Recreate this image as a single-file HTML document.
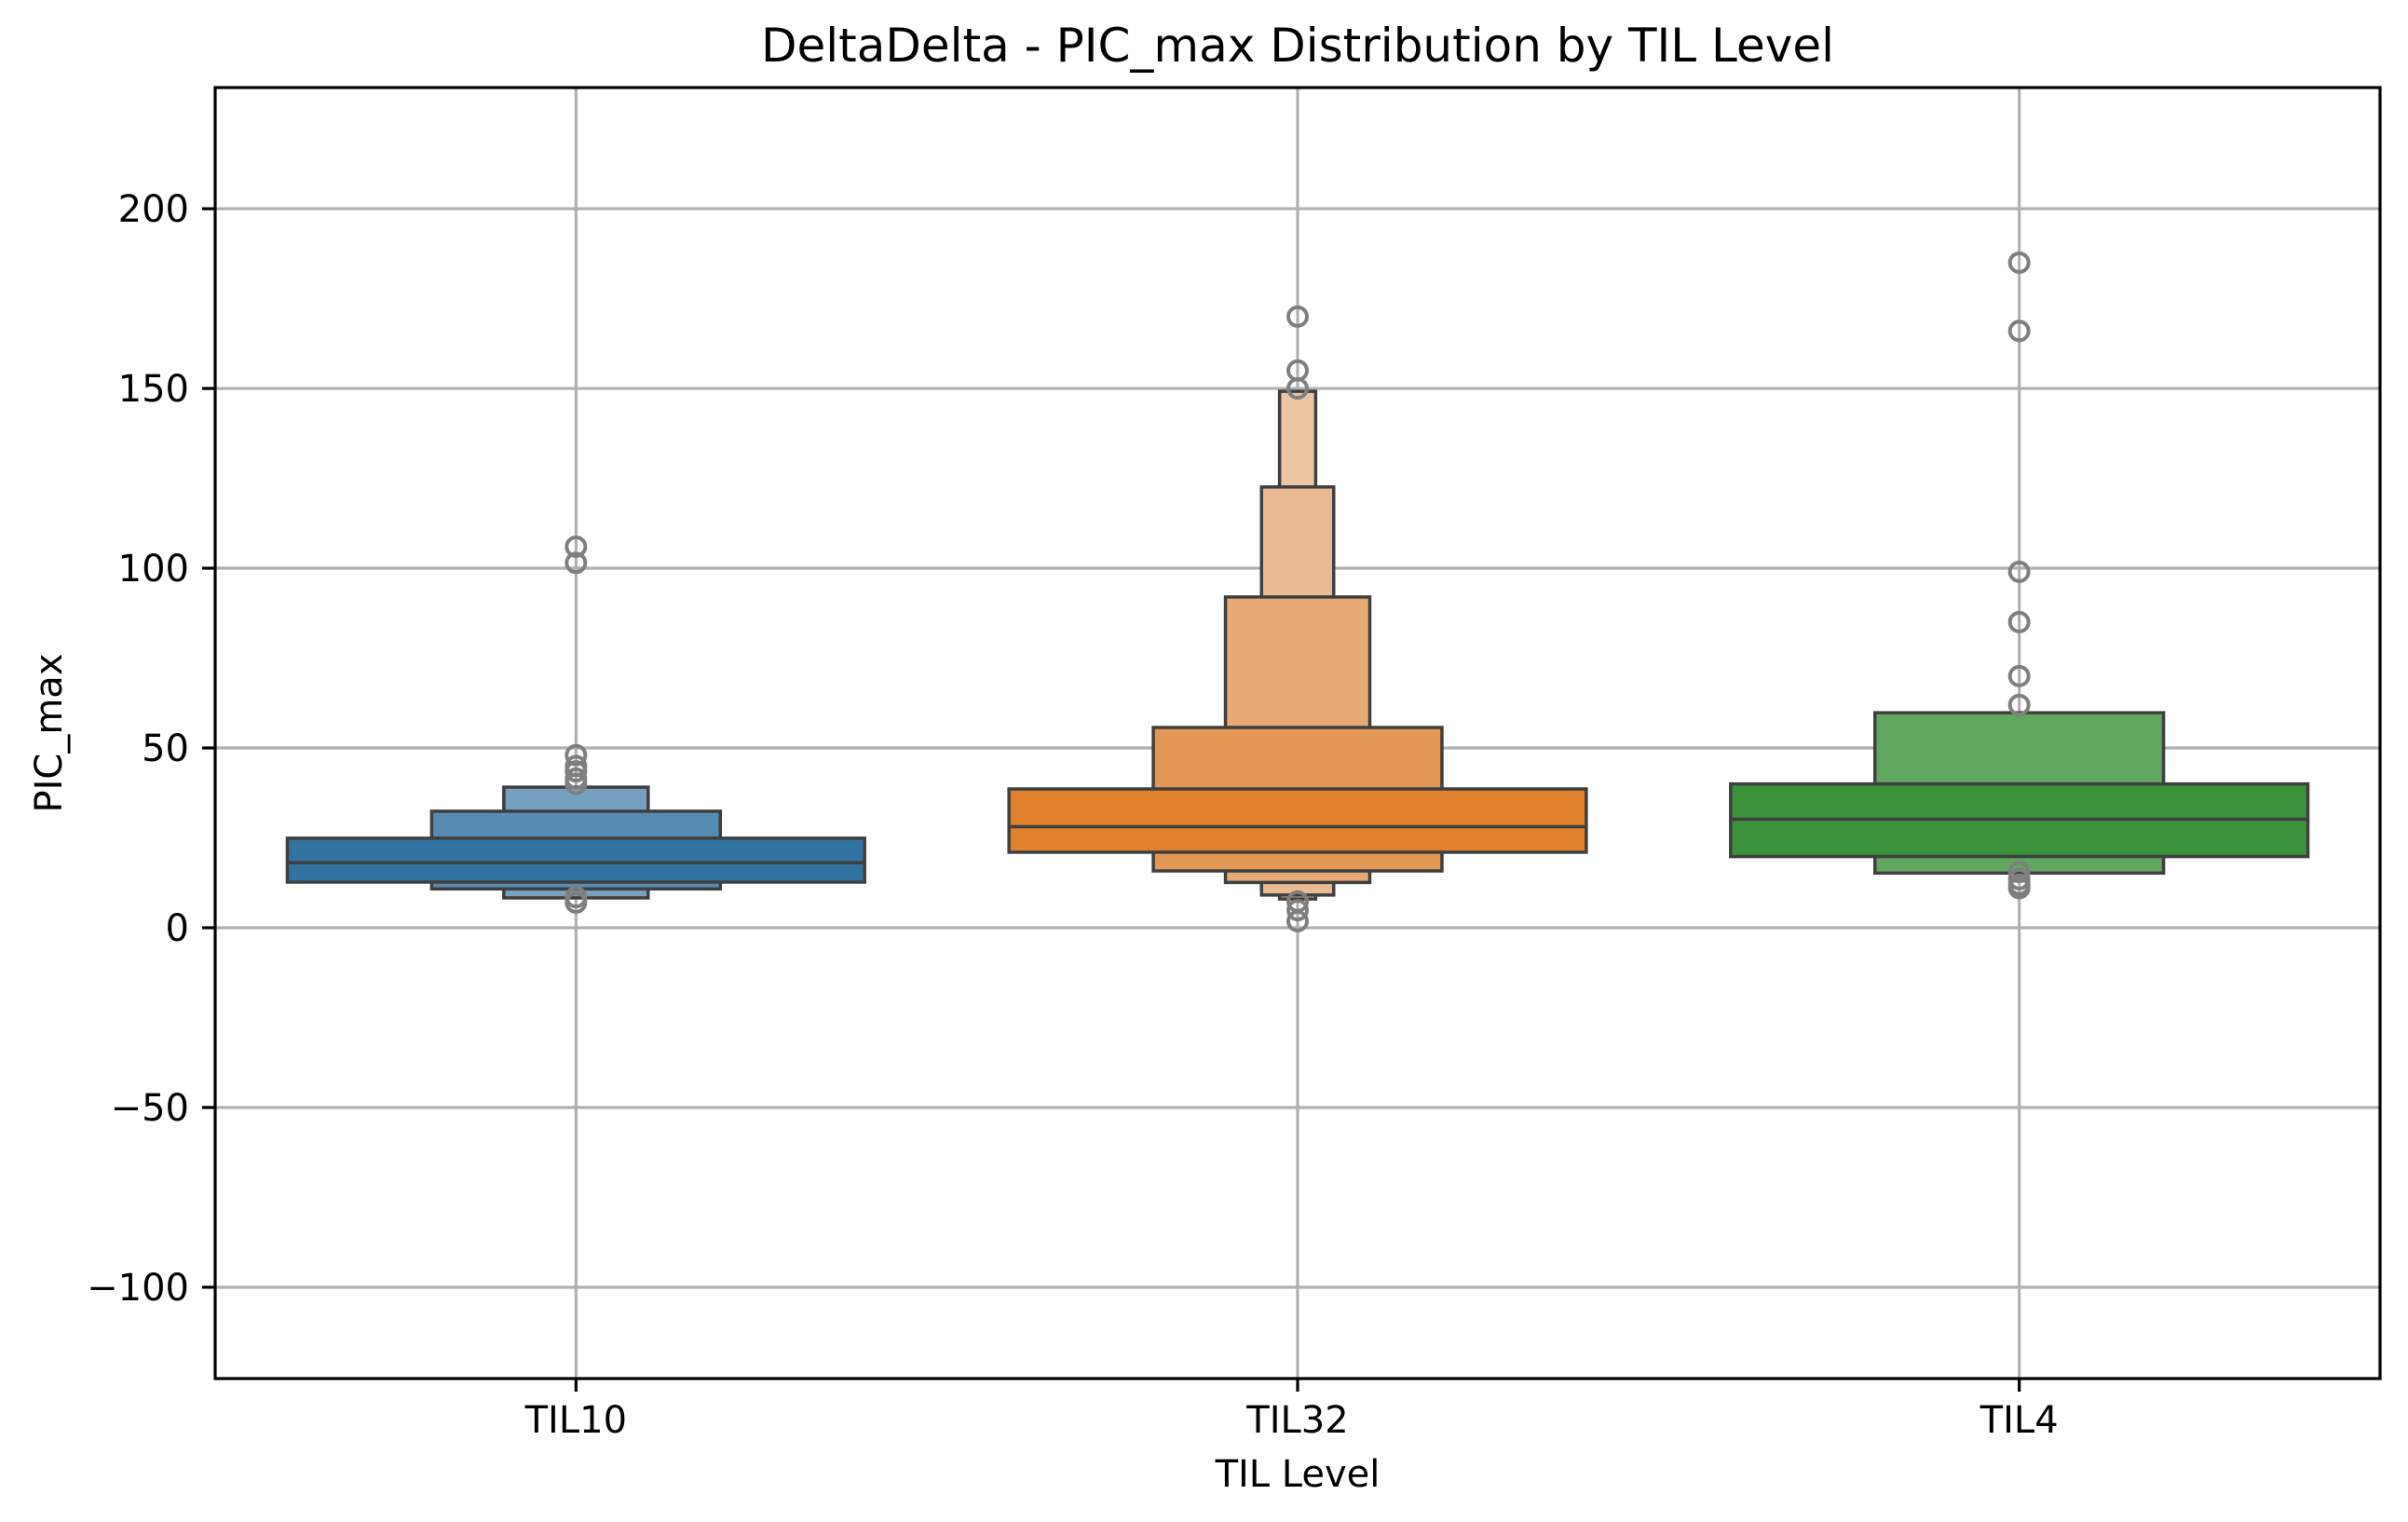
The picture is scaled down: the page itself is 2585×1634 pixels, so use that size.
<!DOCTYPE html>
<html><head><meta charset="utf-8"><style>
html,body{margin:0;padding:0;background:#fff;}
svg{display:block;font-family:"DejaVu Sans","Liberation Sans",sans-serif;}
</style></head><body>
<svg id="chart" width="2585" height="1634" viewBox="0 0 2585 1634" xmlns="http://www.w3.org/2000/svg">
<rect width="2585" height="1634" fill="#fff"/>
<g id="grid"></g>
<g id="boxes"></g>
<g id="ticks"></g>
<rect x="231" y="94" width="2324" height="1386" fill="none" stroke="#000" stroke-width="3.2"/>
<text x="1393" y="66" text-anchor="middle" font-size="50">DeltaDelta - PIC_max Distribution by TIL Level</text>
<text x="1393" y="1596" text-anchor="middle" font-size="40">TIL Level</text>
<text x="0" y="0" transform="translate(66,787) rotate(-90)" text-anchor="middle" font-size="40">PIC_max</text>
</svg>
<script>
const categories = ["TIL10", "TIL32", "TIL4"];
const yTicks = [-100, -50, 0, 50, 100, 150, 200];
const yTickLabels = ["\u2212100", "\u221250", "0", "50", "100", "150", "200"];
const medians = [18.1, 28.1, 30.2];
const levelsTIL10 = [[12.7, 24.9], [10.8, 32.4], [8.3, 39.1]];
const levelsTIL32 = [[21, 38.6], [15.8, 55.7], [12.6, 92], [9.1, 122.6], [8, 149.2]];
const levelsTIL4 = [[19.8, 40], [15.2, 59.8]];
const outliersTIL10 = [106, 101.5, 48, 45, 43.5, 41.5, 40, 8.5, 7];
const outliersTIL32 = [170, 155, 150, 7.3, 4.9, 1.8];
const outliersTIL4 = [185, 166, 99, 85, 70, 62, 15.5, 13.5, 12, 11];
const levels = [levelsTIL10, levelsTIL32, levelsTIL4];
const outliers = [outliersTIL10, outliersTIL32, outliersTIL4];
const palettes = [["#3274a1","#568bb2","#77a1c1"],["#e1812c","#e49856","#e7aa77","#eabb92","#ecc5a3"],["#3a923a","#60a760"]];

const NS = "http://www.w3.org/2000/svg";
const L = 231, R = 2555, T = 94, B = 1480;
const yMin = -125.4, yMax = 233.7;
function yS(v){ return B - (v - yMin) / (yMax - yMin) * (B - T); }
function xS(i){ return L + (i + 0.5) / categories.length * (R - L); }
const unit = (R - L) / categories.length;
function mk(tag, attrs, parent){ const e = document.createElementNS(NS, tag); for (const k in attrs) e.setAttribute(k, attrs[k]); parent.appendChild(e); return e; }

const grid = document.getElementById('grid');
const ticks = document.getElementById('ticks');
const boxes = document.getElementById('boxes');

yTicks.forEach((v, i) => {
  const y = yS(v);
  const g = mk('line', {x1:L, x2:R, y1:y, y2:y, stroke:'#b0b0b0', 'stroke-width':3.2}, grid);
  
  
  const t = mk('line', {x1:L-14, x2:L, y1:y, y2:y, stroke:'#000', 'stroke-width':3.2}, ticks);
  
  
  const tx = mk('text', {x:L-28, y:y+14, 'text-anchor':'end', 'font-size':40}, ticks);
  tx.textContent = yTickLabels[i];
  
  
});
categories.forEach((c, i) => {
  const x = xS(i);
  const g = mk('line', {x1:x, x2:x, y1:T, y2:B, stroke:'#b0b0b0', 'stroke-width':3.2}, grid);
  
  
  const t = mk('line', {x1:x, x2:x, y1:B, y2:B+14, stroke:'#000', 'stroke-width':3.2}, ticks);
  
  
  const tx = mk('text', {x:x, y:B+58, 'text-anchor':'middle', 'font-size':40}, ticks);
  tx.textContent = c;
  
  
});

categories.forEach((c, i) => {
  const x = xS(i);
  const lv = levels[i];
  for (let k = lv.length - 1; k >= 0; k--) {
    const hw = unit * 0.4 / Math.pow(2, k);
    const y1 = yS(lv[k][1]), y0 = yS(lv[k][0]);
    const r = mk('rect', {x:x-hw, y:y1, width:2*hw, height:y0-y1, fill:palettes[i][k], stroke:'#3f3f3f', 'stroke-width':3.5}, boxes);
    
    
  }
  const my = yS(medians[i]);
  const m = mk('line', {x1:x-unit*0.4, x2:x+unit*0.4, y1:my, y2:my, stroke:'#3f3f3f', 'stroke-width':3.5}, boxes);
  
  
  outliers[i].forEach(v => {
    const o = mk('circle', {cx:x, cy:yS(v), r:10, fill:'none', stroke:'#7f7f7f', 'stroke-width':4}, boxes);
    
    
  });
});
</script>
</body></html>
